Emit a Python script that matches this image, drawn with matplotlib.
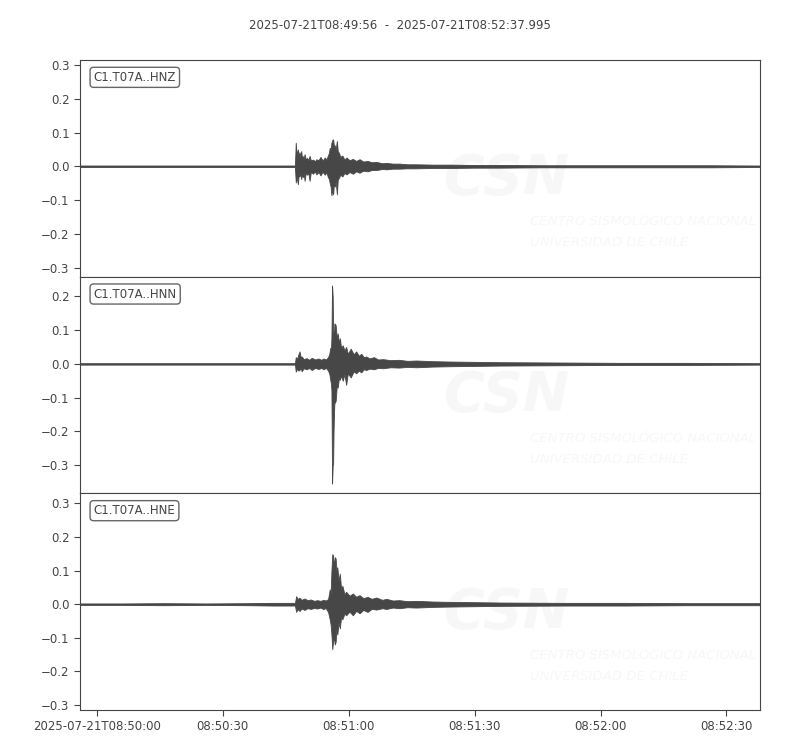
import numpy as np
import matplotlib.pyplot as plt

# time in seconds after 2025-07-21T08:49:56
t_end = 161.995
tick_secs = [4, 34, 64, 94, 124, 154]
tick_labels = ["2025-07-21T08:50:00", "08:50:30", "08:51:00",
               "08:51:30", "08:52:00", "08:52:30"]
title = "2025-07-21T08:49:56  -  2025-07-21T08:52:37.995"
channels = ["C1.T07A..HNZ", "C1.T07A..HNN", "C1.T07A..HNE"]
ylims = [(-0.327, 0.315), (-0.383, 0.258), (-0.315, 0.330)]
yticks = [[-0.3, -0.2, -0.1, 0.0, 0.1, 0.2, 0.3],
          [-0.3, -0.2, -0.1, 0.0, 0.1, 0.2],
          [-0.3, -0.2, -0.1, 0.0, 0.1, 0.2, 0.3]]

# waveform envelopes (upper / lower amplitude)
hnz_t = [0, 20, 40, 51.2, 51.4, 51.6, 51.9, 52.1, 52.3, 52.5, 52.7, 52.9, 53.1, 53.3,
         53.5, 53.8, 54.1, 54.4, 54.7, 55.0, 55.5, 56.0, 56.3, 56.8, 57.3, 57.8, 58.3,
         58.7, 59.0, 59.3, 59.5, 59.7, 59.9, 60.1, 60.3, 60.5, 60.7, 60.9, 61.2, 61.4,
         61.7, 62.0, 62.5, 63.0, 63.5, 64.2, 65.0, 65.8, 66.6, 67.5, 68.5, 69.5, 70.6,
         72.0, 73.0, 74.5, 76.1, 78, 80, 84, 88, 94, 100, 110, 120, 135, 150, 162]
hnz_up = [0.002, 0.002, 0.002, 0.002, 0.070, 0.035, 0.050, 0.030, 0.042, 0.028, 0.045,
          0.025, 0.030, 0.022, 0.036, 0.020, 0.025, 0.018, 0.031, 0.017, 0.020, 0.015,
          0.021, 0.018, 0.028, 0.017, 0.026, 0.020, 0.030, 0.040, 0.055, 0.048, 0.070,
          0.078, 0.080, 0.060, 0.062, 0.050, 0.075, 0.045, 0.040, 0.028, 0.032, 0.020,
          0.026, 0.018, 0.022, 0.016, 0.021, 0.014, 0.016, 0.012, 0.013, 0.009, 0.010,
          0.008, 0.008, 0.006, 0.006, 0.005, 0.005, 0.004, 0.004, 0.003, 0.003, 0.003,
          0.003, 0.002]
hnz_lo = [-0.002, -0.002, -0.002, -0.002, -0.048, -0.030, -0.053, -0.025, -0.030, -0.020,
          -0.038, -0.022, -0.032, -0.020, -0.043, -0.018, -0.025, -0.020, -0.043, -0.016,
          -0.022, -0.015, -0.024, -0.017, -0.027, -0.016, -0.025, -0.018, -0.030, -0.038,
          -0.050, -0.060, -0.086, -0.070, -0.083, -0.050, -0.060, -0.045, -0.083, -0.040,
          -0.034, -0.025, -0.030, -0.020, -0.024, -0.017, -0.022, -0.015, -0.019, -0.013,
          -0.015, -0.011, -0.011, -0.008, -0.009, -0.007, -0.007, -0.006, -0.006, -0.005,
          -0.005, -0.004, -0.004, -0.003, -0.003, -0.003, -0.003, -0.002]

hnn_t = [0, 20, 40, 51.2, 51.4, 51.7, 52.0, 52.3, 52.6, 52.8, 53.3, 54, 54.6, 55.2, 56,
         56.8, 57.5, 58, 58.6, 59.1, 59.4, 59.6, 59.8, 59.9, 60.05, 60.2, 60.3, 60.4,
         60.5, 60.6, 60.9, 61.2, 61.4, 61.7, 61.9, 62.2, 62.6, 63.0, 63.4, 63.8, 64.5,
         65.2, 65.8, 66.4, 67.0, 67.6, 68.2, 69, 70, 71, 72.2, 74, 76, 78, 80.1, 84, 88,
         94, 100, 115, 130, 145, 162]
hnn_up = [0.002, 0.002, 0.002, 0.002, 0.020, 0.015, 0.027, 0.037, 0.018, 0.022, 0.014,
          0.017, 0.012, 0.018, 0.013, 0.016, 0.012, 0.016, 0.013, 0.020, 0.030, 0.047,
          0.040, 0.080, 0.232, 0.200, 0.100, 0.090, 0.080, 0.120, 0.115, 0.075, 0.090,
          0.060, 0.076, 0.048, 0.055, 0.040, 0.050, 0.030, 0.045, 0.028, 0.037, 0.024,
          0.030, 0.020, 0.022, 0.016, 0.020, 0.013, 0.014, 0.011, 0.012, 0.009, 0.010,
          0.008, 0.007, 0.006, 0.005, 0.004, 0.003, 0.003, 0.002]
hnn_lo = [-0.002, -0.002, -0.002, -0.002, -0.023, -0.014, -0.020, -0.018, -0.012, -0.022,
          -0.013, -0.016, -0.012, -0.018, -0.012, -0.015, -0.012, -0.016, -0.012, -0.020,
          -0.030, -0.045, -0.060, -0.080, -0.354, -0.300, -0.295, -0.200, -0.150, -0.117,
          -0.110, -0.060, -0.070, -0.040, -0.047, -0.035, -0.050, -0.030, -0.062, -0.028,
          -0.040, -0.022, -0.028, -0.020, -0.025, -0.016, -0.018, -0.014, -0.016, -0.012,
          -0.013, -0.010, -0.011, -0.009, -0.010, -0.008, -0.007, -0.006, -0.005, -0.004,
          -0.003, -0.003, -0.002]

hne_t = [0, 10, 20, 30, 40, 46, 49, 51.2, 51.5, 51.8, 52.3, 52.8, 53.5, 54.2, 55, 55.8,
         56.5, 57.3, 58.0, 58.5, 59.1, 59.5, 59.7, 59.9, 60.1, 60.3, 60.5, 60.7, 60.9,
         61.1, 61.3, 61.6, 61.9, 62.2, 62.5, 63.0, 63.4, 64.2, 65.0, 65.8, 66.6, 67.5,
         68.5, 69.5, 70.6, 72, 73.0, 74.5, 76.1, 78, 80, 84, 88, 94, 100, 115, 130, 145,
         162]
hne_up = [0.002, 0.002, 0.003, 0.002, 0.003, 0.004, 0.004, 0.004, 0.024, 0.016, 0.019,
          0.013, 0.017, 0.012, 0.014, 0.010, 0.012, 0.010, 0.013, 0.011, 0.015, 0.044,
          0.030, 0.100, 0.149, 0.145, 0.110, 0.140, 0.136, 0.100, 0.110, 0.070, 0.091,
          0.045, 0.055, 0.030, 0.037, 0.025, 0.032, 0.022, 0.027, 0.018, 0.022, 0.016,
          0.020, 0.013, 0.016, 0.011, 0.012, 0.009, 0.010, 0.008, 0.007, 0.006, 0.005,
          0.004, 0.004, 0.003, 0.003]
hne_lo = [-0.002, -0.002, -0.003, -0.002, -0.003, -0.004, -0.004, -0.004, -0.023, -0.015,
          -0.020, -0.013, -0.017, -0.012, -0.014, -0.011, -0.013, -0.010, -0.015, -0.011,
          -0.023, -0.046, -0.060, -0.090, -0.134, -0.110, -0.100, -0.120, -0.112, -0.075,
          -0.090, -0.055, -0.072, -0.038, -0.045, -0.028, -0.033, -0.022, -0.033, -0.020,
          -0.027, -0.017, -0.023, -0.014, -0.016, -0.012, -0.014, -0.010, -0.012, -0.009,
          -0.010, -0.008, -0.007, -0.006, -0.005, -0.004, -0.004, -0.003, -0.003]

traces = [(hnz_t, hnz_up, hnz_lo), (hnn_t, hnn_up, hnn_lo), (hne_t, hne_up, hne_lo)]

wave_color = "#474747"
text_color = "#444444"
mark_color = "#f7f7f7"

fig = plt.figure(figsize=(8, 7.5), dpi=100)
fig.subplots_adjust(left=0.1, right=0.95, top=0.92, bottom=0.0533, hspace=0)
axes = fig.subplots(3, 1, sharex=True)

for i, ax in enumerate(axes):
    t, up, lo = traces[i]

    # faint CSN watermark
    ax.text(0.627, 0.45, "CSN", transform=ax.transAxes, fontsize=40,
            fontweight="bold", fontstyle="italic", color=mark_color,
            ha="center", va="center", zorder=0)
    ax.text(0.662, 0.253, "CENTRO SISMOLÓGICO NACIONAL", transform=ax.transAxes,
            fontsize=9.5, fontstyle="italic", color=mark_color,
            ha="left", va="center", zorder=0)
    ax.text(0.662, 0.157, "UNIVERSIDAD DE CHILE", transform=ax.transAxes,
            fontsize=9.5, fontstyle="italic", color=mark_color,
            ha="left", va="center", zorder=0)

    ax.fill_between(t, lo, up, color=wave_color, linewidth=0.6,
                    edgecolor=wave_color, zorder=2)
    ax.plot([0, t_end], [0, 0], color=wave_color, linewidth=1.0, zorder=2)

    ax.set_yticks(yticks[i])
    ax.set_yticklabels([f"{v:.1f}".replace("-", "\u2212") for v in yticks[i]])
    ax.set_xlim(0, t_end)
    ax.set_ylim(*ylims[i])
    ax.tick_params(axis="y", labelsize=8.5, colors=text_color, length=4)
    for sp in ax.spines.values():
        sp.set_color(text_color)

    ax.text(0.02, 0.95, channels[i], transform=ax.transAxes, fontsize=8.5,
            color=text_color, ha="left", va="top", zorder=5,
            bbox=dict(boxstyle="round,pad=0.3", fc="white", ec="#666666", lw=1))

    if i < 2:
        ax.tick_params(axis="x", bottom=False, labelbottom=False)

axes[-1].set_xticks(tick_secs)
axes[-1].set_xticklabels(tick_labels)
axes[-1].set_xlim(0, t_end)
axes[-1].tick_params(axis="x", labelsize=8.5, colors=text_color, length=4)

fig.suptitle(title, fontsize=8.5, color=text_color, y=0.975)

plt.savefig("out.png")
plt.close()
